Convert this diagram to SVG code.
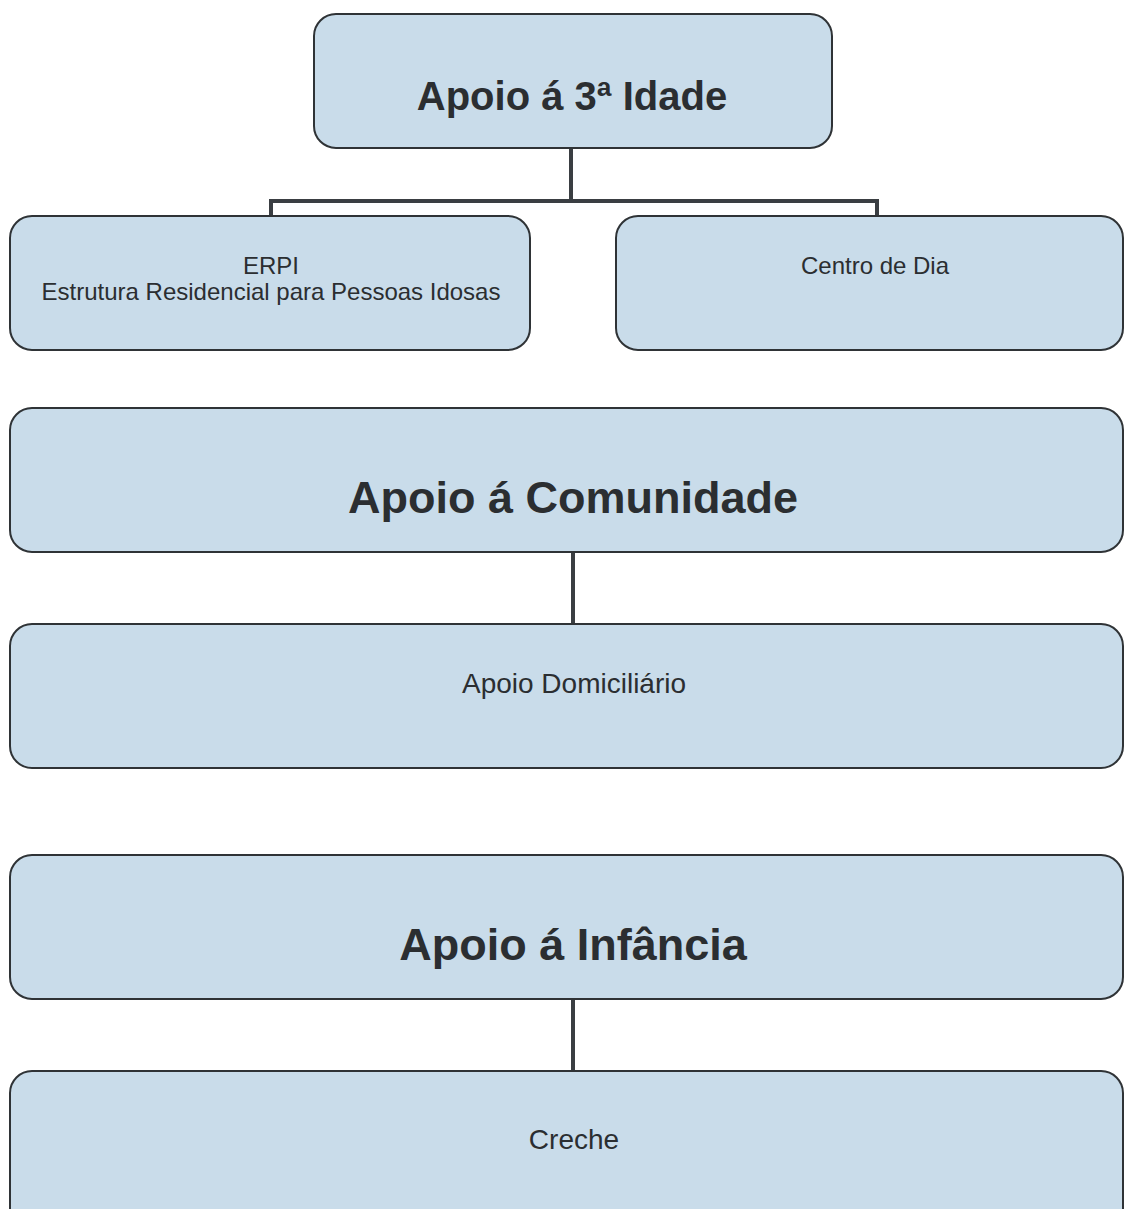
<svg xmlns="http://www.w3.org/2000/svg" width="1124" height="1209" viewBox="0 0 1124 1209">
<style>
.box{fill:#c9dcea;stroke:#2f3336;stroke-width:2}
.con{fill:none;stroke:#3a3e42;stroke-width:4}
.t{font-family:"Liberation Sans",Arial,sans-serif;fill:#2b2e31;text-anchor:middle}
.h{font-weight:bold}
</style>
<rect width="1124" height="1209" fill="#ffffff"/>
<g id="connectors">
<path class="con" d="M571 148 V201 M271 216 V201 H877 V216"/>
<path class="con" d="M573 552 V624"/>
<path class="con" d="M573 999 V1071"/>
</g>
<g id="n-idade">
<rect class="box" x="314" y="14" width="518" height="134" rx="22"/>
<text class="t h" x="572" y="110" font-size="40">Apoio á 3ª Idade</text>
</g>
<g id="n-erpi">
<rect class="box" x="10" y="216" width="520" height="134" rx="22"/>
<text class="t" x="271" y="274" font-size="24">ERPI</text>
<text class="t" x="271" y="300" font-size="24">Estrutura Residencial para Pessoas Idosas</text>
</g>
<g id="n-centro">
<rect class="box" x="616" y="216" width="507" height="134" rx="22"/>
<text class="t" x="875" y="274" font-size="24">Centro de Dia</text>
</g>
<g id="n-comunidade">
<rect class="box" x="10" y="408" width="1113" height="144" rx="22"/>
<text class="t h" x="573" y="513" font-size="45">Apoio á Comunidade</text>
</g>
<g id="n-domiciliario">
<rect class="box" x="10" y="624" width="1113" height="144" rx="22"/>
<text class="t" x="574" y="693" font-size="28">Apoio Domiciliário</text>
</g>
<g id="n-infancia">
<rect class="box" x="10" y="855" width="1113" height="144" rx="22"/>
<text class="t h" x="573" y="960" font-size="45">Apoio á Infância</text>
</g>
<g id="n-creche">
<rect class="box" x="10" y="1071" width="1113" height="160" rx="22"/>
<text class="t" x="574" y="1149" font-size="28">Creche</text>
</g>
</svg>
